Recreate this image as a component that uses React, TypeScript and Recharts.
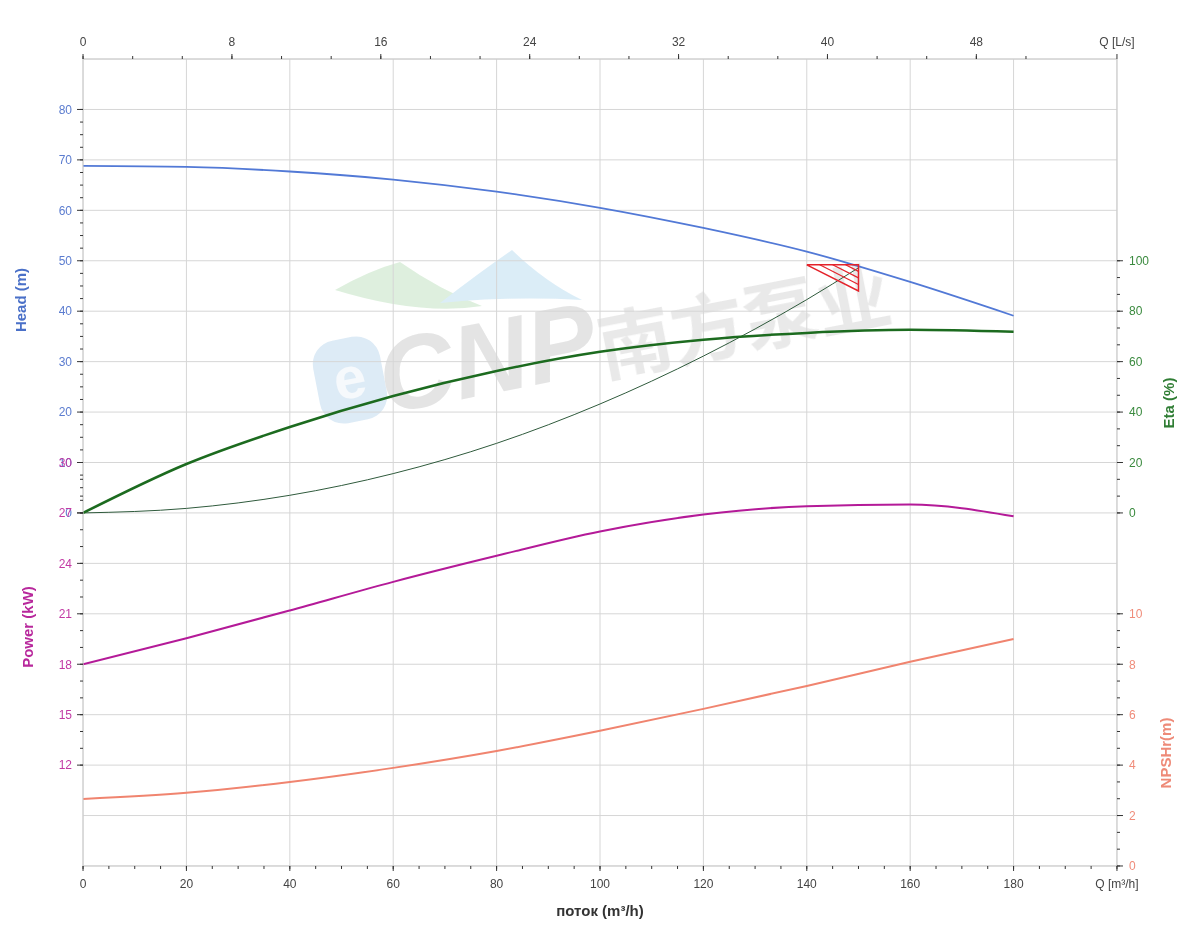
import React from 'react';
import { ComposedChart, Line, XAxis, YAxis, CartesianGrid } from 'recharts';

// ---- data ----
const flowQ = [0, 20, 40, 60, 80, 100, 120, 140, 160, 180];
const headM = [68.8, 68.6, 67.7, 66.1, 63.7, 60.5, 56.5, 51.8, 45.8, 39.1];
const etaPct = [0, 19.4, 34.1, 46.4, 56.3, 63.9, 68.7, 71.4, 72.6, 71.8];
const powerKW = [18.0, 19.55, 21.2, 22.9, 24.45, 25.9, 26.9, 27.4, 27.5, 26.8];
const npshM = [2.66, 2.9, 3.33, 3.89, 4.56, 5.36, 6.23, 7.14, 8.1, 9.0];

const sysQ = [0, 20, 40, 60, 80, 100, 120, 140, 150];
const sysH = [0, 0.9, 3.5, 7.8, 13.8, 21.6, 31.1, 42.3, 48.6];

const dutyQ = [140, 150, 150, 140];
const dutyH = [49.2, 49.2, 44.0, 49.2];
const hatchQ = [[142.5, 150], [145, 150], [147.5, 150]];
const hatchH = [[49.2, 45.3], [49.2, 46.6], [49.2, 47.9]];

// ---- ticks ----
const qTicks = [0, 20, 40, 60, 80, 100, 120, 140, 160, 180, 200];
const qMinorTicks = [0, 5, 10, 15, 20, 25, 30, 35, 40, 45, 50, 55, 60, 65, 70, 75, 80, 85, 90, 95, 100, 105, 110, 115, 120, 125, 130, 135, 140, 145, 150, 155, 160, 165, 170, 175, 180, 185, 190, 195, 200];
const lsTicks = [0, 8, 16, 24, 32, 40, 48];
const lsMinorTicks = [0, 2.667, 5.333, 8, 10.667, 13.333, 16, 18.667, 21.333, 24, 26.667, 29.333, 32, 34.667, 37.333, 40, 42.667, 45.333, 48, 50.667];
const headTicks = [0, 10, 20, 30, 40, 50, 60, 70, 80];
const headMinorTicks = [0, 2.5, 5, 7.5, 10, 12.5, 15, 17.5, 20, 22.5, 25, 27.5, 30, 32.5, 35, 37.5, 40, 42.5, 45, 47.5, 50, 52.5, 55, 57.5, 60, 62.5, 65, 67.5, 70, 72.5, 75, 77.5, 80];
const powerTicks = [12, 15, 18, 21, 24, 27, 30];
const powerMinorTicks = [12, 13, 14, 15, 16, 17, 18, 19, 20, 21, 22, 23, 24, 25, 26, 27, 28, 29, 30];
const etaTicks = [0, 20, 40, 60, 80, 100];
const etaMinorTicks = [0, 6.667, 13.333, 20, 26.667, 33.333, 40, 46.667, 53.333, 60, 66.667, 73.333, 80, 86.667, 93.333, 100];
const npshTicks = [0, 2, 4, 6, 8, 10];
const npshMinorTicks = [0, 0.667, 1.333, 2, 2.667, 3.333, 4, 4.667, 5.333, 6, 6.667, 7.333, 8, 8.667, 9.333, 10];
const gridTicks = [0, 2, 4, 6, 8, 10, 12, 14, 16, 18, 20, 22, 24, 26, 28, 30, 32];

const LS_TO_M3H = 3.6;

const pairs = (xs: number[], ys: number[]) => xs.map((q, i) => ({ q, v: ys[i] }));
const headData = pairs(flowQ, headM);
const etaData = pairs(flowQ, etaPct);
const powerData = pairs(flowQ, powerKW);
const npshData = pairs(flowQ, npshM);
const sysData = pairs(sysQ, sysH);
const dutyData = pairs(dutyQ, dutyH);
const hatchData = hatchQ.map((qs, i) => pairs(qs, hatchH[i]));

const FONT = '"Liberation Sans", Arial, Helvetica, sans-serif';
const C_HEAD = '#5279d6';
const C_ETA = '#1c6b1f';
const C_SYS = '#2f5a3c';
const C_POWER = '#b41a98';
const C_NPSH = '#f0846f';
const C_RED = '#e4232b';
const GRID = '#d6d6d6';
const AXIS = '#cccccc';
const TICK = '#333333';
const EPS = 0.01;

const W = 1184;
const H = 930;

const EmptyTick = () => <g />;

const Watermark = () => (
  <svg width={W} height={H} style={{ position: 'absolute', left: 0, top: 0 }}>
    <g transform="translate(-8,-8)" opacity={0.8}>
      <path d="M 335 290 Q 370 270 400 262 Q 440 290 482 306 Q 420 316 335 290 Z" fill="#d6ecd6" />
      <path d="M 440 303 Q 480 272 512 250 Q 545 282 582 300 Q 510 296 440 303 Z" fill="#d3e9f6" />
      <g transform="translate(350,380) rotate(-11)">
        <rect x={-34} y={-42} width={68} height={84} rx={24} fill="#d5e6f4" />
        <text x={0} y={18} textAnchor="middle" fontSize="58" fontWeight="bold" fill="#f4f8fc" fontFamily={FONT}>e</text>
      </g>
      <text transform="translate(386,414) rotate(-11)" fontSize="104" fontWeight="bold" fontStyle="italic" fill="#dedede" fontFamily={FONT}>CNP</text>
      <text transform="translate(604,376) rotate(-11)" fontSize="74" fontWeight="bold" fill="#e4e4e4" fontFamily='"Noto Sans CJK SC", sans-serif'>南方泵业</text>
    </g>
  </svg>
);

const Titles = () => (
  <svg width={W} height={H} style={{ position: 'absolute', left: 0, top: 0, pointerEvents: 'none' }}>
    <g fontFamily={FONT} fontWeight="bold" fontSize={15}>
      <text transform="translate(12,292) rotate(-90)" textAnchor="middle" dominantBaseline="central" fill="#4a70c8">Head (m)</text>
      <text transform="translate(19,619) rotate(-90)" textAnchor="middle" dominantBaseline="central" fill="#b8289c">Power (kW)</text>
      <text transform="translate(1160,395) rotate(-90)" textAnchor="middle" dominantBaseline="central" fill="#2f7d34">Eta (%)</text>
      <text transform="translate(1157,745) rotate(-90)" textAnchor="middle" dominantBaseline="central" fill="#ee8a78">NPSHr(m)</text>
      <text x={592} y={902} textAnchor="middle" dominantBaseline="central" fill="#333">поток (m³/h)</text>
    </g>
  </svg>
);

const fmtQ = (v: number) => (v === 200 ? 'Q [m³/h]' : String(v));
const fmtLs = (v: number) => (v === 200 ? 'Q [L/s]' : String(Math.round(v / LS_TO_M3H)));

export default function App() {
  const lsTicksQ = lsTicks.map((t) => t * LS_TO_M3H).concat([200]);
  const lsMinorQ = lsMinorTicks.map((t) => t * LS_TO_M3H);
  return (
    <div style={{ position: 'relative', width: W, height: H, fontFamily: FONT }}>
      <Watermark />
      <div style={{ position: 'absolute', left: 0, top: 0 }}>
        <ComposedChart width={W} height={H} margin={{ top: 51, right: 75, bottom: 72, left: 75 }} style={{ fontFamily: FONT }}>
          <YAxis yAxisId="grid" type="number" domain={[0, 32]} allowDataOverflow ticks={gridTicks} interval={0} hide width={EPS} />
          <CartesianGrid xAxisId="q" yAxisId="grid" stroke={GRID} />

          <XAxis xAxisId="q" type="number" dataKey="q" domain={[0, 200]} allowDataOverflow ticks={qTicks} interval={0}
            tickFormatter={fmtQ} height={EPS} tickSize={5} tickMargin={8}
            axisLine={{ stroke: AXIS }} tickLine={{ stroke: TICK }} tick={{ fill: '#444', fontSize: 12 }} />
          <XAxis xAxisId="qMinor" type="number" dataKey="q" domain={[0, 200]} allowDataOverflow ticks={qMinorTicks} interval={0}
            height={EPS} tickSize={3} axisLine={false} tickLine={{ stroke: TICK }} tick={EmptyTick} />
          <XAxis xAxisId="ls" orientation="top" type="number" dataKey="q" domain={[0, 200]} allowDataOverflow ticks={lsTicksQ} interval={0}
            tickFormatter={fmtLs} height={EPS} tickSize={5} tickMargin={8}
            axisLine={{ stroke: AXIS }} tickLine={{ stroke: TICK }} tick={{ fill: '#444', fontSize: 12 }} />
          <XAxis xAxisId="lsMinor" orientation="top" type="number" dataKey="q" domain={[0, 200]} allowDataOverflow ticks={lsMinorQ} interval={0}
            height={EPS} tickSize={3} axisLine={false} tickLine={{ stroke: TICK }} tick={EmptyTick} />

          <YAxis yAxisId="head" orientation="left" type="number" domain={[-70, 90]} allowDataOverflow ticks={headTicks} interval={0}
            width={EPS} tickSize={6} tickMargin={5} axisLine={{ stroke: AXIS }} tickLine={{ stroke: TICK }}
            tick={{ fill: '#5b7ccf', fontSize: 12 }} />
          <YAxis yAxisId="headMinor" orientation="left" type="number" domain={[-70, 90]} allowDataOverflow ticks={headMinorTicks} interval={0}
            width={EPS} tickSize={3} axisLine={false} tickLine={{ stroke: TICK }} tick={EmptyTick} />
          <YAxis yAxisId="power" orientation="left" type="number" domain={[6, 54]} allowDataOverflow ticks={powerTicks} interval={0}
            width={EPS} tickSize={6} tickMargin={5} axisLine={false} tickLine={{ stroke: TICK }}
            tick={{ fill: '#c23aa4', fontSize: 12 }} />
          <YAxis yAxisId="powerMinor" orientation="left" type="number" domain={[6, 54]} allowDataOverflow ticks={powerMinorTicks} interval={0}
            width={EPS} tickSize={3} axisLine={false} tickLine={{ stroke: TICK }} tick={EmptyTick} />

          <YAxis yAxisId="eta" orientation="right" type="number" domain={[-140, 180]} allowDataOverflow ticks={etaTicks} interval={0}
            width={EPS} tickSize={6} tickMargin={6} axisLine={{ stroke: AXIS }} tickLine={{ stroke: TICK }}
            tick={{ fill: '#3a8a3e', fontSize: 12 }} />
          <YAxis yAxisId="etaMinor" orientation="right" type="number" domain={[-140, 180]} allowDataOverflow ticks={etaMinorTicks} interval={0}
            width={EPS} tickSize={3} axisLine={false} tickLine={{ stroke: TICK }} tick={EmptyTick} />
          <YAxis yAxisId="npsh" orientation="right" type="number" domain={[0, 32]} allowDataOverflow ticks={npshTicks} interval={0}
            width={EPS} tickSize={6} tickMargin={6} axisLine={false} tickLine={{ stroke: TICK }}
            tick={{ fill: '#f08c7a', fontSize: 12 }} />
          <YAxis yAxisId="npshMinor" orientation="right" type="number" domain={[0, 32]} allowDataOverflow ticks={npshMinorTicks} interval={0}
            width={EPS} tickSize={3} axisLine={false} tickLine={{ stroke: TICK }} tick={EmptyTick} />

          <Line xAxisId="q" yAxisId="npsh" data={npshData} dataKey="v" type="monotone" stroke={C_NPSH} strokeWidth={2} dot={false} isAnimationActive={false} />
          <Line xAxisId="q" yAxisId="power" data={powerData} dataKey="v" type="monotone" stroke={C_POWER} strokeWidth={2} dot={false} isAnimationActive={false} />
          <Line xAxisId="q" yAxisId="head" data={sysData} dataKey="v" type="monotone" stroke={C_SYS} strokeWidth={1} dot={false} isAnimationActive={false} />
          <Line xAxisId="q" yAxisId="eta" data={etaData} dataKey="v" type="monotone" stroke={C_ETA} strokeWidth={2.5} dot={false} isAnimationActive={false} />
          <Line xAxisId="q" yAxisId="head" data={headData} dataKey="v" type="monotone" stroke={C_HEAD} strokeWidth={1.8} dot={false} isAnimationActive={false} />
          <Line xAxisId="q" yAxisId="head" data={dutyData} dataKey="v" type="linear" stroke={C_RED} strokeWidth={1.5} dot={false} isAnimationActive={false} />
          {hatchData.map((d, i) => (
            <Line key={i} xAxisId="q" yAxisId="head" data={d} dataKey="v" type="linear" stroke={C_RED} strokeWidth={1.2} dot={false} isAnimationActive={false} />
          ))}
        </ComposedChart>
      </div>
      <Titles />
    </div>
  );
}
